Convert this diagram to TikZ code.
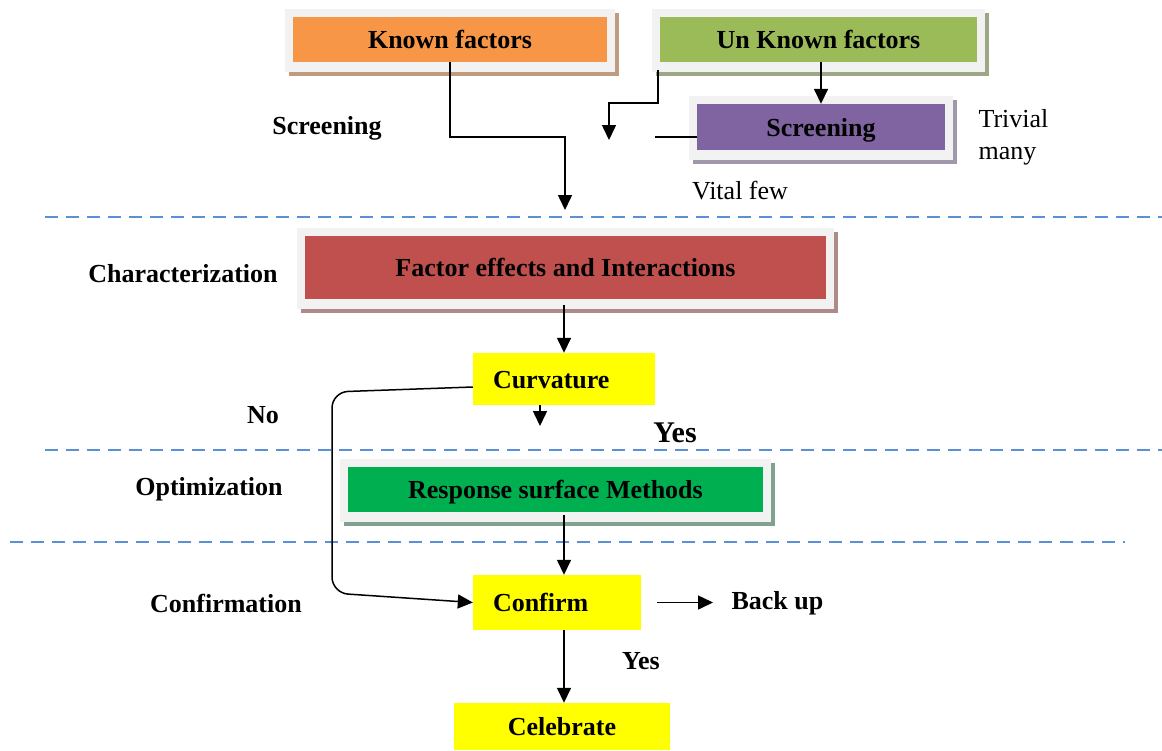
\documentclass[tikz,border=0pt]{standalone}
\usepackage{fontspec}
\setmainfont{Liberation Serif}
\usetikzlibrary{arrows.meta,positioning,calc,backgrounds}
\definecolor{kfOrange}{HTML}{F79646}
\definecolor{ukGreen}{HTML}{9BBB59}
\definecolor{scrPurple}{HTML}{8064A2}
\definecolor{feRed}{HTML}{C0504D}
\definecolor{rsmGreen}{HTML}{00B050}
\definecolor{frameGray}{HTML}{F2F2F2}
\definecolor{sepBlue}{HTML}{5B8FD6}
\definecolor{boxYellow}{HTML}{FFFF00}
\tikzset{
  fbox/.style={fill=#1, inner sep=0pt, text height=20pt, text depth=2pt, font=\bfseries\fontsize{26}{30}\selectfont},
  ybox/.style={fill=boxYellow, inner ysep=0pt, inner xsep=20pt, align=left, text height=20pt, text depth=2pt, font=\bfseries\fontsize{26}{30}\selectfont},
  lbl/.style={font=\bfseries\fontsize{26}{30}\selectfont},
  plain/.style={font=\fontsize{26}{32}\selectfont},
  arr/.style={-{Triangle[length=15pt,width=14pt]}, line width=1.5pt},
  sep/.style={sepBlue, line width=1.3pt, dash pattern=on 13pt off 8pt}
}
% grey frame with drop shadow behind a coloured box
\newcommand\shadowframe[2]{%
  \fill[#2] ([shift={(-4,-4)}]#1.north west) rectangle ([shift={(12,14)}]#1.south east);
  \fill[frameGray] ([shift={(-8,-8)}]#1.north west) rectangle ([shift={(8,10)}]#1.south east);}

\begin{document}
\begin{tikzpicture}[x=1pt,y=-1pt]
\useasboundingbox (0,0) rectangle (1162,750);

% stage separators
\draw[sep] (45,217) -- (1162,217);
\draw[sep] (45,450) -- (1162,450);
\draw[sep] (10,542) -- (1125,542);

% boxes
\node[fbox=kfOrange, minimum width=314pt, minimum height=45pt] (known) at (450,39.5) {Known factors};
\node[fbox=ukGreen, minimum width=317pt, minimum height=45pt] (unknown) at (818.5,39.5) {Un Known factors};
\node[fbox=scrPurple, minimum width=248pt, minimum height=46pt] (screen) at (821,127) {Screening};
\node[fbox=feRed, minimum width=521pt, minimum height=63pt] (effects) at (565.5,267.5) {Factor effects and Interactions};
\node[ybox, text width=142pt, minimum height=52pt] (curv) at (564,379) {Curvature};
\node[fbox=rsmGreen, minimum width=415pt, minimum height=45pt] (rsm) at (555.5,489.5) {Response surface Methods};
\node[ybox, text width=128pt, minimum height=55pt] (confirm) at (557,602.5) {Confirm};
\node[fbox=boxYellow, minimum width=216pt, minimum height=47pt] (celebrate) at (562,726.5) {Celebrate};

\begin{scope}[on background layer]
\shadowframe{known}{kfOrange!45!gray!85}
\shadowframe{unknown}{ukGreen!40!gray!85}
\shadowframe{screen}{scrPurple!40!gray!75}
\shadowframe{effects}{feRed!40!gray!80}
\shadowframe{rsm}{rsmGreen!25!gray!80}
\end{scope}

% stage labels
\node[lbl] (lscreen) at (327,128) {Screening};
\node[lbl] (lchar) at (183,274) {Characterization};
\node[lbl] (lopt) at (209,489) {Optimization};
\node[lbl] (lconf) at (226,603) {Confirmation};
\node[lbl] (no) at (263,415) {No};
\node[lbl, font=\bfseries\fontsize{30}{34}\selectfont] (yes1) at (675,433) {Yes};
\node[lbl] (yes2) at (641,661) {Yes};
\node[lbl, anchor=west] (backup) at (728,603) {Back up};
\node[plain, anchor=west, align=left] (trivial) at (975,137) {Trivial\\many};
\node[plain] (vital) at (740,191) {Vital few};

% connectors
\coordinate (kend) at (565,210);
\coordinate (vend) at (609,140);
\coordinate (cend) at (540,426);
\coordinate (mid) at (564,0);
\draw[arr] (known.south) -- ++(0,75) -| (kend);
\draw[arr] (unknown.south -| screen.north) -- (screen.north);
\draw[arr] ([shift={(-2,8)}]unknown.south west) -- ++(0,33) -| (vend);
\draw[line width=1.5pt] ([shift={(0,10)}]screen.west) -- ++(-42,0);
\draw[arr] ([shift={(0,6)}]effects.south -| mid) -- (curv.north -| mid);
\draw[arr] (curv.south -| cend) -- (cend);
\draw[arr, rounded corners=16pt] ([shift={(0,8)}]curv.west) -- (332,392) -- (332,593) -- (confirm.west);
\draw[arr] ([shift={(0,3)}]rsm.south -| mid) -- (confirm.north -| mid);
\draw[arr] (confirm.south -| mid) -- (celebrate.north -| mid);
\draw[arr] ([xshift=16pt]confirm.east) -- ([xshift=-15pt]backup.west |- confirm.east);
\end{tikzpicture}
\end{document}
